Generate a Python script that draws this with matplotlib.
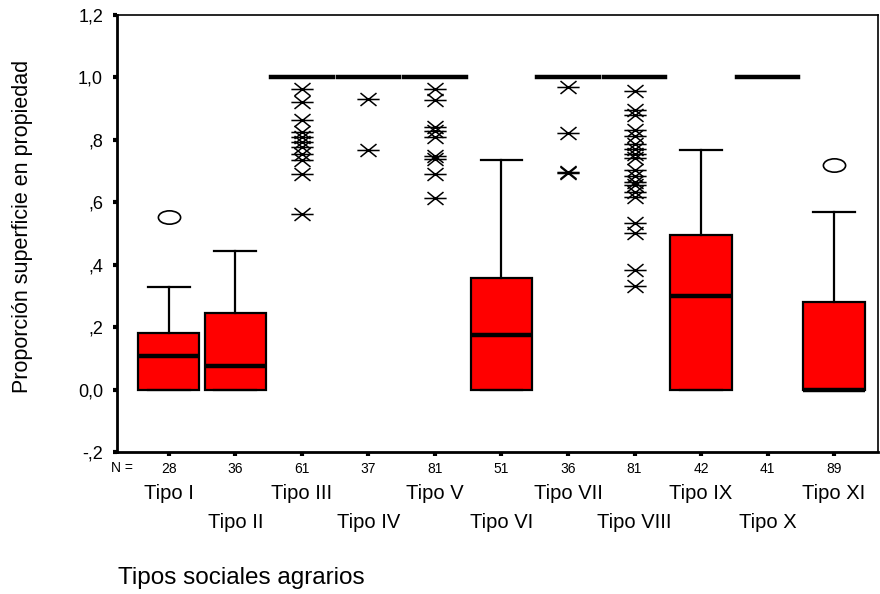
import matplotlib
matplotlib.use("Agg")
import matplotlib.pyplot as plt
from matplotlib.path import Path
from matplotlib.transforms import Affine2D
from matplotlib import font_manager

# ---------------- data ----------------
categories = ["Tipo I", "Tipo II", "Tipo III", "Tipo IV", "Tipo V", "Tipo VI",
              "Tipo VII", "Tipo VIII", "Tipo IX", "Tipo X", "Tipo XI"]
n_counts = [28, 36, 61, 37, 81, 51, 36, 81, 42, 41, 89]
q1 = [0.0, 0.0, 1.0, 1.0, 1.0, 0.0, 1.0, 1.0, 0.0, 1.0, 0.0]
medians = [0.109, 0.077, 1.0, 1.0, 1.0, 0.175, 1.0, 1.0, 0.300, 1.0, 0.0]
q3 = [0.182, 0.246, 1.0, 1.0, 1.0, 0.359, 1.0, 1.0, 0.495, 1.0, 0.282]
whis_lo = [0.0, 0.0, 1.0, 1.0, 1.0, 0.0, 1.0, 1.0, 0.0, 1.0, 0.0]
whis_hi = [0.330, 0.444, 1.0, 1.0, 1.0, 0.735, 1.0, 1.0, 0.767, 1.0, 0.570]

outliers = {0: [0.553], 10: [0.719]}
extremes = {
    2: [0.964, 0.921, 0.863, 0.825, 0.810, 0.793, 0.776, 0.755, 0.735, 0.690, 0.562],
    3: [0.932, 0.767],
    4: [0.964, 0.929, 0.841, 0.827, 0.809, 0.748, 0.738, 0.690, 0.613],
    6: [0.969, 0.823, 0.698, 0.695],
    7: [0.958, 0.897, 0.881, 0.831, 0.811, 0.788, 0.770, 0.756, 0.743, 0.703,
        0.684, 0.666, 0.655, 0.634, 0.618, 0.533, 0.501, 0.383, 0.332],
}
yticks = [-0.2, 0.0, 0.2, 0.4, 0.6, 0.8, 1.0, 1.2]
ytick_labels = ["-,2", "0,0", ",2", ",4", ",6", ",8", "1,0", "1,2"]

# ---------------- fonts ----------------
names = {f.name for f in font_manager.fontManager.ttflist}
base = "Liberation Sans" if "Liberation Sans" in names else "DejaVu Sans"
narrow = "Liberation Sans Narrow" if "Liberation Sans Narrow" in names else base
plt.rcParams["font.family"] = [base, "DejaVu Sans"]

# ---------------- figure ----------------
fig = plt.figure(figsize=(8.8, 5.94), dpi=100)
ax = fig.add_axes([117 / 880, (594 - 452) / 594, (878 - 117) / 880, (452 - 15) / 594])

positions = list(range(len(categories)))
stats = []
for i in positions:
    stats.append(dict(med=medians[i], q1=q1[i], q3=q3[i],
                      whislo=whis_lo[i], whishi=whis_hi[i], fliers=[]))

art = ax.bxp(stats, positions=positions, widths=0.92, patch_artist=True,
             showfliers=False,
             boxprops=dict(facecolor="#ff0000", edgecolor="black", linewidth=1.6),
             medianprops=dict(color="black", linewidth=3.2, solid_capstyle="butt"),
             whiskerprops=dict(color="black", linewidth=1.6),
             capprops=dict(color="black", linewidth=1.6),
             capwidths=0.63)
for i, med in enumerate(art["medians"]):
    if q1[i] == q3[i]:
        med.set_solid_capstyle("projecting")

# asterisk marker (x with horizontal bar)
star = Path([(-1, 0), (1, 0), (-0.72, -0.58), (0.72, 0.58), (-0.72, 0.58), (0.72, -0.58)],
            [Path.MOVETO, Path.LINETO, Path.MOVETO, Path.LINETO, Path.MOVETO, Path.LINETO])
ellipse = Path.unit_circle().transformed(Affine2D().scale(1.0, 0.6))

for i, vals in extremes.items():
    ax.plot([i] * len(vals), vals, linestyle="none", marker=star, markersize=16,
            markeredgecolor="black", markeredgewidth=1.1, markerfacecolor="none")
for i, vals in outliers.items():
    ax.plot([i] * len(vals), vals, linestyle="none", marker=ellipse, markersize=16,
            markeredgecolor="black", markeredgewidth=1.2, markerfacecolor="white")

ax.set_xlim(-0.78, 10.66)
ax.set_ylim(-0.2, 1.2)

ax.set_yticks(yticks)
ax.set_yticklabels(ytick_labels, fontsize=13)
ax.set_xticks(positions)
ax.set_xticklabels([str(v) for v in n_counts], fontsize=10)
ax.tick_params(axis="y", length=3, width=3, pad=7, direction="out")
ax.tick_params(axis="x", length=3, width=3, pad=4, direction="out")

for side in ["left", "bottom"]:
    ax.spines[side].set_linewidth(2.0)
for side in ["top", "right"]:
    ax.spines[side].set_linewidth(1.2)

trans = ax.get_xaxis_transform()
ax.text(-0.54, -0.036, "N =", transform=trans, ha="right", va="center", fontsize=10)
for i, name in enumerate(categories):
    yy = -0.096 if i % 2 == 0 else -0.162
    ax.text(i, yy, name, transform=trans, ha="center", va="center", fontsize=14.5)

ax.set_ylabel("Proporción superficie en propiedad", family=[narrow, "DejaVu Sans"],
              fontsize=15.5)
ax.yaxis.set_label_coords(-0.110, 0.517)

fig.text(118 / 880, (594 - 578) / 594, "Tipos sociales agrarios", ha="left",
         va="center", fontsize=17.5)

fig.savefig("out.png", dpi=100)
